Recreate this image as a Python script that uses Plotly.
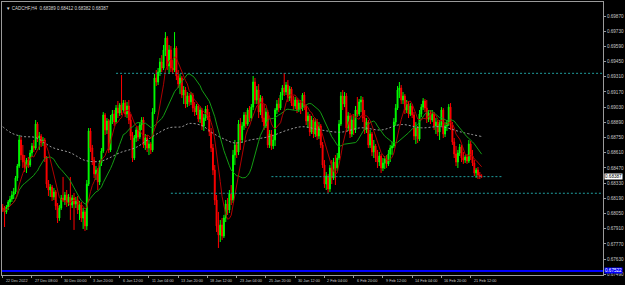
import plotly.graph_objects as go
import pandas as pd

# ---------------- data (CADCHF, H4) ----------------
open_ = [
0.68101,0.68083,0.68065,0.68111,0.68157,0.68184,0.68221,0.68249,0.68378,0.68488,
0.68728,0.68589,0.68525,0.68479,0.68543,0.68497,0.68608,0.68672,0.68654,0.68875,
0.68746,0.68764,0.68700,0.68728,0.68562,0.68322,0.68267,0.68295,0.68203,0.68249,
0.68120,0.68009,0.68101,0.68193,0.68175,0.68221,0.68147,0.68203,0.68129,0.68193,
0.68138,0.68175,0.68083,0.68129,0.68009,0.68065,0.67936,0.68322,0.68811,0.68654,
0.68543,0.68415,0.68451,0.68341,0.68516,0.68626,0.68958,0.68820,0.68903,0.68636,
0.68912,0.68967,0.68893,0.69022,0.68976,0.69050,0.69004,0.69068,0.68967,0.69041,
0.68912,0.68764,0.68562,0.68746,0.68820,0.68755,0.68866,0.68912,0.68682,0.68746,
0.68654,0.68691,0.68636,0.68985,0.69299,0.69262,0.69354,0.69446,0.69391,0.69557,
0.69667,0.69409,0.69557,0.69391,0.69372,0.69575,0.69317,0.69243,0.69299,0.69142,
0.69188,0.69059,0.69133,0.69078,0.69142,0.69022,0.68985,0.69041,0.68921,0.69004,
0.68857,0.68930,0.69013,0.68949,0.68801,0.68654,0.68451,0.68175,0.67936,0.67853,
0.67945,0.67843,0.68009,0.68138,0.68083,0.68230,0.68175,0.68589,0.68682,0.68617,
0.68875,0.68728,0.68857,0.68958,0.68875,0.69004,0.68930,0.69031,0.69262,0.69096,
0.69188,0.68985,0.69114,0.68930,0.68857,0.68985,0.68682,0.68783,0.68672,0.68728,
0.69004,0.69059,0.69022,0.69142,0.69207,0.69170,0.69234,0.69114,0.69197,0.69068,
0.69041,0.69096,0.69004,0.69068,0.69022,0.69142,0.69041,0.68903,0.68949,0.68801,
0.68912,0.68783,0.68893,0.68764,0.68857,0.68682,0.68497,0.68322,0.68396,0.68276,
0.68470,0.68378,0.68525,0.68470,0.68562,0.68875,0.69133,0.69059,0.69133,0.68838,
0.68949,0.68783,0.68912,0.68820,0.69004,0.68967,0.69078,0.69096,0.68930,0.68820,
0.68893,0.68682,0.68783,0.68617,0.68672,0.68562,0.68525,0.68580,0.68470,0.68516,
0.68553,0.68507,0.68599,0.68654,0.68672,0.68893,0.69022,0.69188,0.69207,0.69096,
0.69133,0.69004,0.69059,0.68967,0.69041,0.68958,0.68764,0.68838,0.68737,0.68967,
0.69031,0.69087,0.69022,0.68921,0.68976,0.68912,0.68967,0.68857,0.68893,0.68801,
0.68875,0.69004,0.68783,0.68857,0.68884,0.69031,0.68866,0.68709,0.68599,0.68525,
0.68608,0.68663,0.68562,0.68543,0.68571,0.68534,0.68691,0.68580,0.68516,0.68424,
0.68451,0.68405,0.68389]

high = [
0.68138,0.68120,0.68129,0.68175,0.68212,0.68258,0.68286,0.68396,0.68507,0.68774,
0.68755,0.68682,0.68589,0.68562,0.68571,0.68636,0.68700,0.68728,0.68912,0.68893,
0.68801,0.68783,0.68755,0.68746,0.68580,0.68359,0.68322,0.68313,0.68286,0.68267,
0.68147,0.68129,0.68221,0.68387,0.68249,0.68267,0.68230,0.68387,0.68221,0.68240,
0.68203,0.68212,0.68166,0.68157,0.68101,0.68083,0.68359,0.68838,0.68838,0.68682,
0.68571,0.68488,0.68470,0.68543,0.68654,0.68985,0.68976,0.68930,0.68921,0.68958,
0.69004,0.69004,0.69050,0.69087,0.69068,0.69326,0.69096,0.69096,0.69078,0.69096,
0.68967,0.68801,0.68774,0.68847,0.68857,0.68893,0.68939,0.68939,0.68783,0.68774,
0.68728,0.68709,0.69022,0.69336,0.69372,0.69391,0.69483,0.69510,0.69603,0.69722,
0.69685,0.69603,0.69593,0.69464,0.69722,0.69593,0.69372,0.69336,0.69317,0.69225,
0.69216,0.69170,0.69160,0.69170,0.69160,0.69078,0.69059,0.69059,0.69031,0.69022,
0.68967,0.69041,0.69050,0.68985,0.68838,0.68691,0.68497,0.68221,0.68065,0.67991,
0.68009,0.68037,0.68175,0.68193,0.68267,0.68313,0.68636,0.68728,0.68709,0.68912,
0.68930,0.68893,0.68985,0.68985,0.69022,0.69041,0.69059,0.69317,0.69299,0.69225,
0.69243,0.69142,0.69133,0.69059,0.69022,0.69004,0.68820,0.68820,0.68764,0.69022,
0.69096,0.69114,0.69170,0.69234,0.69345,0.69262,0.69280,0.69225,0.69216,0.69133,
0.69124,0.69114,0.69096,0.69096,0.69160,0.69170,0.69059,0.68985,0.68967,0.68949,
0.68930,0.68930,0.68921,0.68893,0.68875,0.68709,0.68543,0.68433,0.68415,0.68497,
0.68543,0.68562,0.68589,0.68608,0.68912,0.69170,0.69188,0.69170,0.69160,0.68985,
0.68976,0.68949,0.68967,0.69041,0.69124,0.69105,0.69133,0.69124,0.69004,0.68930,
0.68912,0.68820,0.68801,0.68728,0.68691,0.68636,0.68617,0.68599,0.68562,0.68580,
0.68589,0.68636,0.68682,0.68709,0.68930,0.69059,0.69225,0.69262,0.69234,0.69170,
0.69151,0.69096,0.69087,0.69068,0.69059,0.68985,0.68893,0.68857,0.69004,0.69059,
0.69114,0.69105,0.69096,0.69004,0.69004,0.69004,0.68985,0.68930,0.68912,0.68912,
0.69031,0.69022,0.68893,0.68912,0.69059,0.69068,0.68893,0.68746,0.68672,0.68636,
0.68691,0.68682,0.68617,0.68589,0.68599,0.68728,0.68718,0.68636,0.68543,0.68470,
0.68479,0.68433,0.68412]

low = [
0.68065,0.67926,0.68046,0.68083,0.68120,0.68157,0.68184,0.68230,0.68350,0.68470,
0.68543,0.68470,0.68433,0.68424,0.68470,0.68479,0.68571,0.68617,0.68636,0.68709,
0.68636,0.68663,0.68672,0.68525,0.68286,0.68212,0.68203,0.68166,0.68175,0.68083,
0.67963,0.67982,0.68083,0.68157,0.68129,0.68111,0.68120,0.67991,0.68101,0.67899,
0.68101,0.68046,0.67991,0.67972,0.67908,0.67890,0.67899,0.68304,0.68617,0.68497,
0.68378,0.68359,0.68267,0.68313,0.68488,0.68608,0.68774,0.68783,0.68608,0.68617,
0.68875,0.68857,0.68875,0.68930,0.68949,0.68958,0.68976,0.68939,0.68930,0.68875,
0.68728,0.68525,0.68543,0.68709,0.68718,0.68737,0.68820,0.68654,0.68636,0.68617,
0.68589,0.68599,0.68617,0.68967,0.69225,0.69234,0.69317,0.69354,0.69372,0.69501,
0.69372,0.69336,0.69354,0.69336,0.69354,0.69280,0.69207,0.69151,0.69114,0.69059,
0.69022,0.69031,0.69041,0.69050,0.68985,0.68949,0.68958,0.68893,0.68884,0.68820,
0.68811,0.68903,0.68912,0.68764,0.68617,0.68405,0.68129,0.67880,0.67733,0.67788,
0.67807,0.67825,0.67972,0.68037,0.68055,0.68129,0.68147,0.68497,0.68562,0.68589,
0.68636,0.68700,0.68820,0.68838,0.68857,0.68893,0.68903,0.69004,0.69059,0.69059,
0.68930,0.68958,0.68893,0.68820,0.68838,0.68654,0.68654,0.68636,0.68645,0.68672,
0.68967,0.68985,0.69004,0.69096,0.69133,0.69142,0.69078,0.69087,0.69041,0.69004,
0.69013,0.68976,0.68985,0.68967,0.68995,0.69004,0.68866,0.68838,0.68764,0.68783,
0.68746,0.68755,0.68728,0.68737,0.68654,0.68470,0.68286,0.68267,0.68240,0.68249,
0.68322,0.68359,0.68313,0.68442,0.68543,0.68857,0.69004,0.69031,0.68801,0.68811,
0.68746,0.68755,0.68774,0.68792,0.68939,0.68949,0.68985,0.68893,0.68783,0.68792,
0.68654,0.68654,0.68580,0.68562,0.68525,0.68470,0.68488,0.68424,0.68442,0.68461,
0.68470,0.68488,0.68525,0.68589,0.68654,0.68857,0.69004,0.69114,0.69059,0.69059,
0.68967,0.68976,0.68930,0.68949,0.68930,0.68728,0.68691,0.68700,0.68718,0.68939,
0.69004,0.68985,0.68884,0.68893,0.68875,0.68893,0.68820,0.68783,0.68764,0.68728,
0.68857,0.68746,0.68755,0.68811,0.68857,0.68820,0.68682,0.68562,0.68488,0.68470,
0.68580,0.68525,0.68507,0.68516,0.68507,0.68516,0.68543,0.68488,0.68396,0.68378,
0.68368,0.68368,0.68382]

close = [
0.68083,0.68065,0.68111,0.68157,0.68184,0.68221,0.68249,0.68378,0.68488,0.68728,
0.68589,0.68525,0.68479,0.68543,0.68497,0.68608,0.68672,0.68654,0.68875,0.68746,
0.68764,0.68700,0.68728,0.68562,0.68322,0.68267,0.68295,0.68203,0.68249,0.68120,
0.68009,0.68101,0.68193,0.68175,0.68221,0.68147,0.68203,0.68129,0.68193,0.68138,
0.68175,0.68083,0.68129,0.68009,0.68065,0.67936,0.68322,0.68811,0.68654,0.68543,
0.68415,0.68451,0.68341,0.68516,0.68626,0.68958,0.68820,0.68903,0.68636,0.68912,
0.68967,0.68893,0.69022,0.68976,0.69050,0.69004,0.69068,0.68967,0.69041,0.68912,
0.68764,0.68562,0.68746,0.68820,0.68755,0.68866,0.68912,0.68682,0.68746,0.68654,
0.68691,0.68636,0.68985,0.69299,0.69262,0.69354,0.69446,0.69391,0.69557,0.69667,
0.69409,0.69557,0.69391,0.69372,0.69575,0.69317,0.69243,0.69299,0.69142,0.69188,
0.69059,0.69133,0.69078,0.69142,0.69022,0.68985,0.69041,0.68921,0.69004,0.68857,
0.68930,0.69013,0.68949,0.68801,0.68654,0.68451,0.68175,0.67936,0.67853,0.67945,
0.67843,0.68009,0.68138,0.68083,0.68230,0.68175,0.68589,0.68682,0.68617,0.68875,
0.68728,0.68857,0.68958,0.68875,0.69004,0.68930,0.69031,0.69262,0.69096,0.69188,
0.68985,0.69114,0.68930,0.68857,0.68985,0.68682,0.68783,0.68672,0.68728,0.69004,
0.69059,0.69022,0.69142,0.69207,0.69170,0.69234,0.69114,0.69197,0.69068,0.69041,
0.69096,0.69004,0.69068,0.69022,0.69142,0.69041,0.68903,0.68949,0.68801,0.68912,
0.68783,0.68893,0.68764,0.68857,0.68682,0.68497,0.68322,0.68396,0.68276,0.68470,
0.68378,0.68525,0.68470,0.68562,0.68875,0.69133,0.69059,0.69133,0.68838,0.68949,
0.68783,0.68912,0.68820,0.69004,0.68967,0.69078,0.69096,0.68930,0.68820,0.68893,
0.68682,0.68783,0.68617,0.68672,0.68562,0.68525,0.68580,0.68470,0.68516,0.68553,
0.68507,0.68599,0.68654,0.68672,0.68893,0.69022,0.69188,0.69207,0.69096,0.69133,
0.69004,0.69059,0.68967,0.69041,0.68958,0.68764,0.68838,0.68737,0.68967,0.69031,
0.69087,0.69022,0.68921,0.68976,0.68912,0.68967,0.68857,0.68893,0.68801,0.68875,
0.69004,0.68783,0.68857,0.68884,0.69031,0.68866,0.68709,0.68599,0.68525,0.68608,
0.68663,0.68562,0.68543,0.68571,0.68534,0.68691,0.68580,0.68516,0.68424,0.68451,
0.68405,0.68396,0.68387]

# slow moving average (it depends on history before the window)
slow_ma_bar = [0, 5, 11, 18, 27, 37, 45, 53, 58, 64, 73, 82, 91, 98, 102, 109, 115,
               122, 127, 136, 146, 156, 164, 174, 185, 196, 207, 218, 229, 240, 251, 262]
slow_ma_val = [0.6885, 0.6879, 0.6876, 0.6875, 0.6866, 0.6861, 0.6854, 0.6853, 0.6856,
               0.6861, 0.6866, 0.6876, 0.6884, 0.6885, 0.6888, 0.6886, 0.6879, 0.6873,
               0.6870, 0.6873, 0.6876, 0.6882, 0.6885, 0.6882, 0.6880, 0.6884, 0.6882,
               0.6887, 0.6884, 0.6885, 0.6880, 0.6876]

fast_period = 8
mid_period = 20

# horizontal levels: price, first bar, last bar (None = to the right edge)
level_price = [0.69342, 0.68390, 0.68237]
level_from = [62, 147, 92]
level_to = [None, 273, None]
blue_level = 0.67522

tick_bars = list(range(0, 257, 16))
tick_text = ["22 Dec 2022", "27 Dec 08:00", "30 Dec 00:00", "3 Jan 20:00", "6 Jan 12:00",
             "11 Jan 04:00", "13 Jan 20:00", "18 Jan 12:00", "23 Jan 04:00", "25 Jan 20:00",
             "30 Jan 12:00", "2 Feb 04:00", "6 Feb 20:00", "9 Feb 12:00", "14 Feb 04:00",
             "16 Feb 20:00", "21 Feb 12:00"]
price_ticks = [round(0.6749 + 0.0014 * k, 5) for k in range(18)]
price_tick_text = ["%.5f" % v for v in price_ticks]
title_text = "▼ CADCHF,H4  0.68389 0.68412 0.68382 0.68387"

# ---------------- figure ----------------
bars = list(range(len(close)))
cs = pd.Series(close)
fast_ma = cs.rolling(fast_period, min_periods=1).mean()
mid_ma = cs.rolling(mid_period, min_periods=1).mean()

X_MAX = 328.4
fig = go.Figure()
fig.add_trace(go.Candlestick(
    x=bars, open=open_, high=high, low=low, close=close,
    increasing=dict(line=dict(color="#00ff00", width=1), fillcolor="#00ff00"),
    decreasing=dict(line=dict(color="#ff0000", width=1), fillcolor="#ff0000"),
    whiskerwidth=0, hoverinfo="skip", showlegend=False))
fig.add_trace(go.Scatter(x=slow_ma_bar, y=slow_ma_val, mode="lines",
                         line=dict(color="#9a9a9a", width=1, dash="2px,2px", shape="spline"),
                         showlegend=False, hoverinfo="skip"))
fig.add_trace(go.Scatter(x=bars, y=mid_ma, mode="lines",
                         line=dict(color="#139c13", width=1), showlegend=False, hoverinfo="skip"))
fig.add_trace(go.Scatter(x=bars, y=fast_ma, mode="lines",
                         line=dict(color="#b00000", width=1), showlegend=False, hoverinfo="skip"))

shapes = []
for p, a, b in zip(level_price, level_from, level_to):
    shapes.append(dict(type="line", xref="x", yref="y", x0=a, x1=(X_MAX if b is None else b),
                       y0=p, y1=p, line=dict(color="#1f9e9e", width=1, dash="2px,2px")))
shapes.append(dict(type="line", xref="paper", yref="y", x0=0, x1=1, y0=blue_level, y1=blue_level,
                   line=dict(color="#0000ff", width=2)))

annotations = []
for b, t in zip(tick_bars, tick_text):
    annotations.append(dict(x=b, y=0, xref="x", yref="paper", text=t, showarrow=False,
                            xanchor="left", yanchor="top", yshift=-2, xshift=1,
                            font=dict(size=3.8, color="#c8c8c8", family="Liberation Sans")))
annotations.append(dict(x=0, y=1, xref="paper", yref="paper", text=title_text, showarrow=False,
                        xanchor="left", yanchor="top", xshift=2, yshift=-2,
                        font=dict(size=4.5, color="#d8d8d8", family="Liberation Sans")))
annotations.append(dict(x=1, y=close[-1], xref="paper", yref="y", text="%.5f" % close[-1],
                        showarrow=False, xanchor="left", yanchor="middle", xshift=1,
                        bgcolor="#ffffff", borderpad=0,
                        font=dict(size=4.6, color="#000000", family="Liberation Sans")))
annotations.append(dict(x=1, y=blue_level, xref="paper", yref="y", text="%.5f" % blue_level,
                        showarrow=False, xanchor="left", yanchor="middle", xshift=1,
                        bgcolor="#0000ff", borderpad=0,
                        font=dict(size=4.6, color="#ffffff", family="Liberation Sans")))

fig.update_layout(
    width=625, height=285, margin=dict(l=1, r=21, t=2, b=10),
    paper_bgcolor="#000000", plot_bgcolor="#000000",
    shapes=shapes, annotations=annotations, showlegend=False,
    xaxis=dict(range=[-0.4, X_MAX], showgrid=False, zeroline=False, rangeslider=dict(visible=False),
               tickvals=tick_bars, showticklabels=False, ticks="outside", ticklen=2,
               tickcolor="#9a9a9a", showline=True, linecolor="#9a9a9a", linewidth=1, mirror=True),
    yaxis=dict(range=[0.67484, 0.69999], side="right", showgrid=False, zeroline=False,
               tickvals=price_ticks, ticktext=price_tick_text, ticks="outside", ticklen=2,
               tickcolor="#9a9a9a", tickfont=dict(size=4.6, color="#c8c8c8", family="Liberation Sans"),
               showline=True, linecolor="#9a9a9a", linewidth=1, mirror=True),
)
fig.write_html("out.html")
